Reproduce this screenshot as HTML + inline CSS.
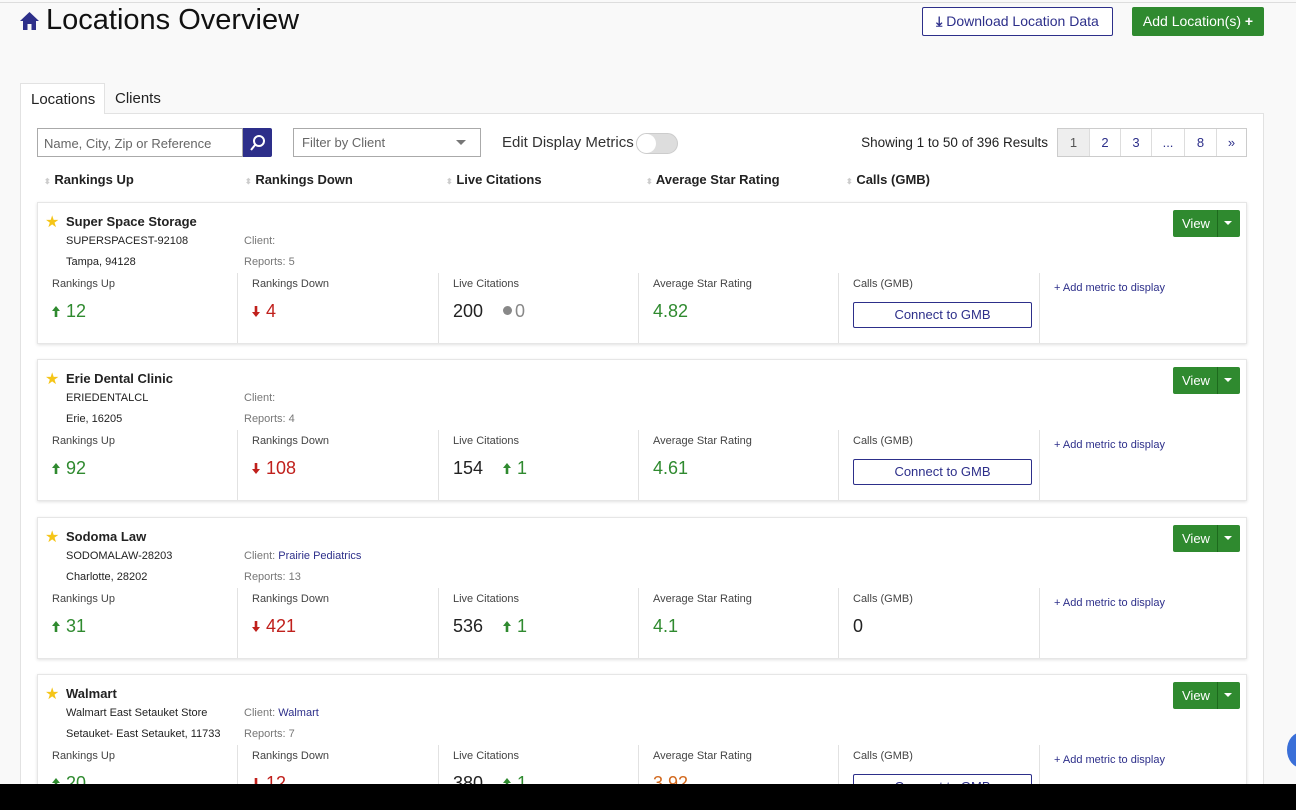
<!DOCTYPE html>
<html><head><style>
*{box-sizing:border-box;margin:0;padding:0}
html,body{width:1296px;height:810px;overflow:hidden}
body{background:#f9f9f9;font-family:"Liberation Sans",sans-serif;color:#222;position:relative}
.a{position:absolute;white-space:nowrap}
.card{position:absolute;left:37px;width:1210px;height:142px;background:#fff;border:1px solid #e6e6e6;box-shadow:0 1px 3px rgba(0,0,0,.12)}
.lbl{font-size:11px;color:#444}
.val{font-size:18px}
.g{color:#2f8a2f}.r{color:#c0201c}
.div{position:absolute;top:70px;width:1px;height:70px;background:#e2e2e2}
.btn{position:absolute;border:1px solid #2d2f8a;border-radius:2px;color:#2d2f8a;background:#fff;text-align:center}
.view{position:absolute;left:1135px;top:7px;width:67px;height:27px;background:#2f8a2f;border-radius:2px;color:#fff;font-size:13px}
.up,.dn{display:inline-block;width:8px;height:11px;margin-right:6px;vertical-align:0}
</style></head><body>
<svg width="0" height="0" style="position:absolute"><defs>
<symbol id="u" viewBox="0 0 8 11"><path d="M4 0L8 5H5.3V11H2.7V5H0Z"/></symbol>
<symbol id="d" viewBox="0 0 8 11"><path d="M4 11L8 6H5.3V0H2.7V6H0Z"/></symbol>
</defs></svg>
<div class="a" style="left:0;top:2px;width:1296px;height:1px;background:#ddd"></div>
<svg class="a" style="left:20px;top:11px" width="19" height="20" viewBox="0 0 19 20"><path d="M9.5 1 L19 10 L16 10 L16 19 L11.5 19 L11.5 13 L7.5 13 L7.5 19 L3 19 L3 10 L0 10Z" fill="#2d2f8a"/></svg>
<div class="a" style="left:46px;top:4px;font-size:29px;color:#111">Locations Overview</div>
<div class="btn" style="left:922px;top:7px;width:191px;height:29px;font-size:14px;line-height:27px"><b>⤓</b> Download Location Data</div>
<div class="a" style="left:1132px;top:7px;width:132px;height:29px;background:#2f8a2f;border-radius:2px;color:#fff;font-size:14px;line-height:29px;text-align:center">Add Location(s) <b>+</b></div>
<div class="a" style="left:20px;top:113px;width:1244px;height:700px;border:1px solid #e2e2e2;background:#fff"></div>
<div class="a" style="left:20px;top:83px;width:85px;height:31px;border:1px solid #e2e2e2;border-bottom:none;background:#fff;font-size:15px;padding:7px 0 0 10px">Locations</div>
<div class="a" style="left:115px;top:90px;font-size:15px">Clients</div>
<div class="a" style="left:37px;top:128px;width:206px;height:29px;border:1px solid #aaa;font-size:13px;color:#666;padding:7px 6px">Name, City, Zip or Reference</div>
<div class="a" style="left:243px;top:128px;width:29px;height:29px;background:#2d2f8a;border-radius:0 2px 2px 0"><svg width="29" height="29"><circle cx="16" cy="13" r="5" stroke="#fff" stroke-width="2" fill="none"/><line x1="12" y1="17" x2="8" y2="22" stroke="#fff" stroke-width="2"/></svg></div>
<div class="a" style="left:293px;top:128px;width:188px;height:29px;border:1px solid #aaa;font-size:13px;color:#666;padding:6px 8px">Filter by Client<span style="position:absolute;right:14px;top:11px;border:5px solid transparent;border-top-color:#777"></span></div>
<div class="a" style="left:502px;top:134px;font-size:15px;color:#333">Edit Display Metrics</div>
<div class="a" style="left:636px;top:133px;width:42px;height:21px;border-radius:11px;background:#ddd;border:1px solid #ccc"><div style="width:19px;height:19px;border-radius:50%;background:#fff"></div></div>
<div class="a" style="left:850px;top:135px;width:198px;text-align:right;font-size:13.5px;color:#222">Showing 1 to 50 of 396 Results</div>
<div class="a" style="left:1057px;top:128px;height:29px;border:1px solid #ccc;display:flex;font-size:13px;color:#2d2f8a;background:#fff">
<div style="width:31px;text-align:center;line-height:27px;background:#eee;color:#555">1</div><div style="width:31px;text-align:center;line-height:27px;border-left:1px solid #ddd">2</div><div style="width:31px;text-align:center;line-height:27px;border-left:1px solid #ddd">3</div><div style="width:33px;text-align:center;line-height:27px;border-left:1px solid #ddd">...</div><div style="width:32px;text-align:center;line-height:27px;border-left:1px solid #ddd">8</div><div style="width:30px;text-align:center;line-height:27px;border-left:1px solid #ddd">»</div></div>
<div class="a" style="left:44px;top:172px;font-size:13px;font-weight:bold"><span style="color:#ccc;font-size:8px">⬍</span> Rankings Up</div>
<div class="a" style="left:245px;top:172px;font-size:13px;font-weight:bold"><span style="color:#ccc;font-size:8px">⬍</span> Rankings Down</div>
<div class="a" style="left:446px;top:172px;font-size:13px;font-weight:bold"><span style="color:#ccc;font-size:8px">⬍</span> Live Citations</div>
<div class="a" style="left:646px;top:172px;font-size:13px;font-weight:bold"><span style="color:#ccc;font-size:8px">⬍</span> Average Star Rating</div>
<div class="a" style="left:846px;top:172px;font-size:13px;font-weight:bold"><span style="color:#ccc;font-size:8px">⬍</span> Calls (GMB)</div>

<div class="card" style="top:202px">
<div class="a" style="left:7px;top:9px;color:#f5c518;font-size:16px">★</div>
<div class="a" style="left:28px;top:11px;font-size:13px;font-weight:bold">Super Space Storage</div>
<div class="a" style="left:28px;top:32px;font-size:11px">SUPERSPACEST-92108</div>
<div class="a" style="left:28px;top:53px;font-size:11px">Tampa, 94128</div>
<div class="a lbl" style="left:206px;top:32px;color:#777">Client:</div>
<div class="a lbl" style="left:206px;top:53px;color:#777">Reports: 5</div>
<div class="a lbl" style="left:14px;top:75px">Rankings Up</div><div class="a lbl" style="left:214px;top:75px">Rankings Down</div><div class="a lbl" style="left:415px;top:75px">Live Citations</div><div class="a lbl" style="left:615px;top:75px">Average Star Rating</div><div class="a lbl" style="left:815px;top:75px">Calls (GMB)</div>
<div class="div" style="left:199px"></div><div class="div" style="left:400px"></div><div class="div" style="left:600px"></div><div class="div" style="left:800px"></div><div class="div" style="left:1001px"></div>
<div class="a val g" style="left:14px;top:98px"><svg class="up" fill="#2f8a2f"><use href="#u"/></svg>12</div>
<div class="a val r" style="left:214px;top:98px"><svg class="dn" fill="#c0201c"><use href="#d"/></svg>4</div>
<div class="a val" style="left:415px;top:98px">200 &nbsp;&nbsp;&nbsp;<span style="color:#888"><span style="display:inline-block;width:9px;height:9px;border-radius:50%;background:#888;margin-right:3px;vertical-align:2px"></span>0</span></div>
<div class="a val g" style="left:615px;top:98px">4.82</div>
<div class="btn" style="left:815px;top:99px;width:179px;height:26px;font-size:13px;line-height:24px">Connect to GMB</div>
<div class="a" style="left:1016px;top:79px;font-size:11px;color:#2d2f8a">+ Add metric to display</div>
<div class="view"><span style="position:absolute;left:9px;top:6px">View</span><span style="position:absolute;left:44px;top:0;width:1px;height:27px;background:#1d6a1d"></span><span style="position:absolute;left:51px;top:11px;border:4px solid transparent;border-top-color:#fff"></span></div>
</div>

<div class="card" style="top:359px">
<div class="a" style="left:7px;top:9px;color:#f5c518;font-size:16px">★</div>
<div class="a" style="left:28px;top:11px;font-size:13px;font-weight:bold">Erie Dental Clinic</div>
<div class="a" style="left:28px;top:32px;font-size:11px">ERIEDENTALCL</div>
<div class="a" style="left:28px;top:53px;font-size:11px">Erie, 16205</div>
<div class="a lbl" style="left:206px;top:32px;color:#777">Client:</div>
<div class="a lbl" style="left:206px;top:53px;color:#777">Reports: 4</div>
<div class="a lbl" style="left:14px;top:75px">Rankings Up</div><div class="a lbl" style="left:214px;top:75px">Rankings Down</div><div class="a lbl" style="left:415px;top:75px">Live Citations</div><div class="a lbl" style="left:615px;top:75px">Average Star Rating</div><div class="a lbl" style="left:815px;top:75px">Calls (GMB)</div>
<div class="div" style="left:199px"></div><div class="div" style="left:400px"></div><div class="div" style="left:600px"></div><div class="div" style="left:800px"></div><div class="div" style="left:1001px"></div>
<div class="a val g" style="left:14px;top:98px"><svg class="up" fill="#2f8a2f"><use href="#u"/></svg>92</div>
<div class="a val r" style="left:214px;top:98px"><svg class="dn" fill="#c0201c"><use href="#d"/></svg>108</div>
<div class="a val" style="left:415px;top:98px">154 &nbsp;&nbsp;&nbsp;<span class="g"><svg class="up" fill="#2f8a2f"><use href="#u"/></svg>1</span></div>
<div class="a val g" style="left:615px;top:98px">4.61</div>
<div class="btn" style="left:815px;top:99px;width:179px;height:26px;font-size:13px;line-height:24px">Connect to GMB</div>
<div class="a" style="left:1016px;top:79px;font-size:11px;color:#2d2f8a">+ Add metric to display</div>
<div class="view"><span style="position:absolute;left:9px;top:6px">View</span><span style="position:absolute;left:44px;top:0;width:1px;height:27px;background:#1d6a1d"></span><span style="position:absolute;left:51px;top:11px;border:4px solid transparent;border-top-color:#fff"></span></div>
</div>

<div class="card" style="top:517px">
<div class="a" style="left:7px;top:9px;color:#f5c518;font-size:16px">★</div>
<div class="a" style="left:28px;top:11px;font-size:13px;font-weight:bold">Sodoma Law</div>
<div class="a" style="left:28px;top:32px;font-size:11px">SODOMALAW-28203</div>
<div class="a" style="left:28px;top:53px;font-size:11px">Charlotte, 28202</div>
<div class="a lbl" style="left:206px;top:32px;color:#777">Client: <span style="color:#2d2f8a">Prairie Pediatrics</span></div>
<div class="a lbl" style="left:206px;top:53px;color:#777">Reports: 13</div>
<div class="a lbl" style="left:14px;top:75px">Rankings Up</div><div class="a lbl" style="left:214px;top:75px">Rankings Down</div><div class="a lbl" style="left:415px;top:75px">Live Citations</div><div class="a lbl" style="left:615px;top:75px">Average Star Rating</div><div class="a lbl" style="left:815px;top:75px">Calls (GMB)</div>
<div class="div" style="left:199px"></div><div class="div" style="left:400px"></div><div class="div" style="left:600px"></div><div class="div" style="left:800px"></div><div class="div" style="left:1001px"></div>
<div class="a val g" style="left:14px;top:98px"><svg class="up" fill="#2f8a2f"><use href="#u"/></svg>31</div>
<div class="a val r" style="left:214px;top:98px"><svg class="dn" fill="#c0201c"><use href="#d"/></svg>421</div>
<div class="a val" style="left:415px;top:98px">536 &nbsp;&nbsp;&nbsp;<span class="g"><svg class="up" fill="#2f8a2f"><use href="#u"/></svg>1</span></div>
<div class="a val g" style="left:615px;top:98px">4.1</div>
<div class="a val" style="left:815px;top:98px">0</div>
<div class="a" style="left:1016px;top:79px;font-size:11px;color:#2d2f8a">+ Add metric to display</div>
<div class="view"><span style="position:absolute;left:9px;top:6px">View</span><span style="position:absolute;left:44px;top:0;width:1px;height:27px;background:#1d6a1d"></span><span style="position:absolute;left:51px;top:11px;border:4px solid transparent;border-top-color:#fff"></span></div>
</div>

<div class="card" style="top:674px">
<div class="a" style="left:7px;top:9px;color:#f5c518;font-size:16px">★</div>
<div class="a" style="left:28px;top:11px;font-size:13px;font-weight:bold">Walmart</div>
<div class="a" style="left:28px;top:32px;font-size:11px">Walmart East Setauket Store</div>
<div class="a" style="left:28px;top:53px;font-size:11px">Setauket- East Setauket, 11733</div>
<div class="a lbl" style="left:206px;top:32px;color:#777">Client: <span style="color:#2d2f8a">Walmart</span></div>
<div class="a lbl" style="left:206px;top:53px;color:#777">Reports: 7</div>
<div class="a lbl" style="left:14px;top:75px">Rankings Up</div><div class="a lbl" style="left:214px;top:75px">Rankings Down</div><div class="a lbl" style="left:415px;top:75px">Live Citations</div><div class="a lbl" style="left:615px;top:75px">Average Star Rating</div><div class="a lbl" style="left:815px;top:75px">Calls (GMB)</div>
<div class="div" style="left:199px"></div><div class="div" style="left:400px"></div><div class="div" style="left:600px"></div><div class="div" style="left:800px"></div><div class="div" style="left:1001px"></div>
<div class="a val g" style="left:14px;top:98px"><svg class="up" fill="#2f8a2f"><use href="#u"/></svg>20</div>
<div class="a val r" style="left:214px;top:98px"><svg class="dn" fill="#c0201c"><use href="#d"/></svg>12</div>
<div class="a val" style="left:415px;top:98px">380 &nbsp;&nbsp;&nbsp;<span class="g"><svg class="up" fill="#2f8a2f"><use href="#u"/></svg>1</span></div>
<div class="a val" style="left:615px;top:98px;color:#d2691e">3.92</div>
<div class="btn" style="left:815px;top:99px;width:179px;height:26px;font-size:13px;line-height:24px">Connect to GMB</div>
<div class="a" style="left:1016px;top:79px;font-size:11px;color:#2d2f8a">+ Add metric to display</div>
<div class="view"><span style="position:absolute;left:9px;top:6px">View</span><span style="position:absolute;left:44px;top:0;width:1px;height:27px;background:#1d6a1d"></span><span style="position:absolute;left:51px;top:11px;border:4px solid transparent;border-top-color:#fff"></span></div>
</div>
<div class="a" style="left:1287px;top:732px;width:30px;height:36px;border-radius:50%;background:#3a6fd8"></div>
<div class="a" style="left:0;top:784px;width:1296px;height:26px;background:#000"></div>
</body></html>
